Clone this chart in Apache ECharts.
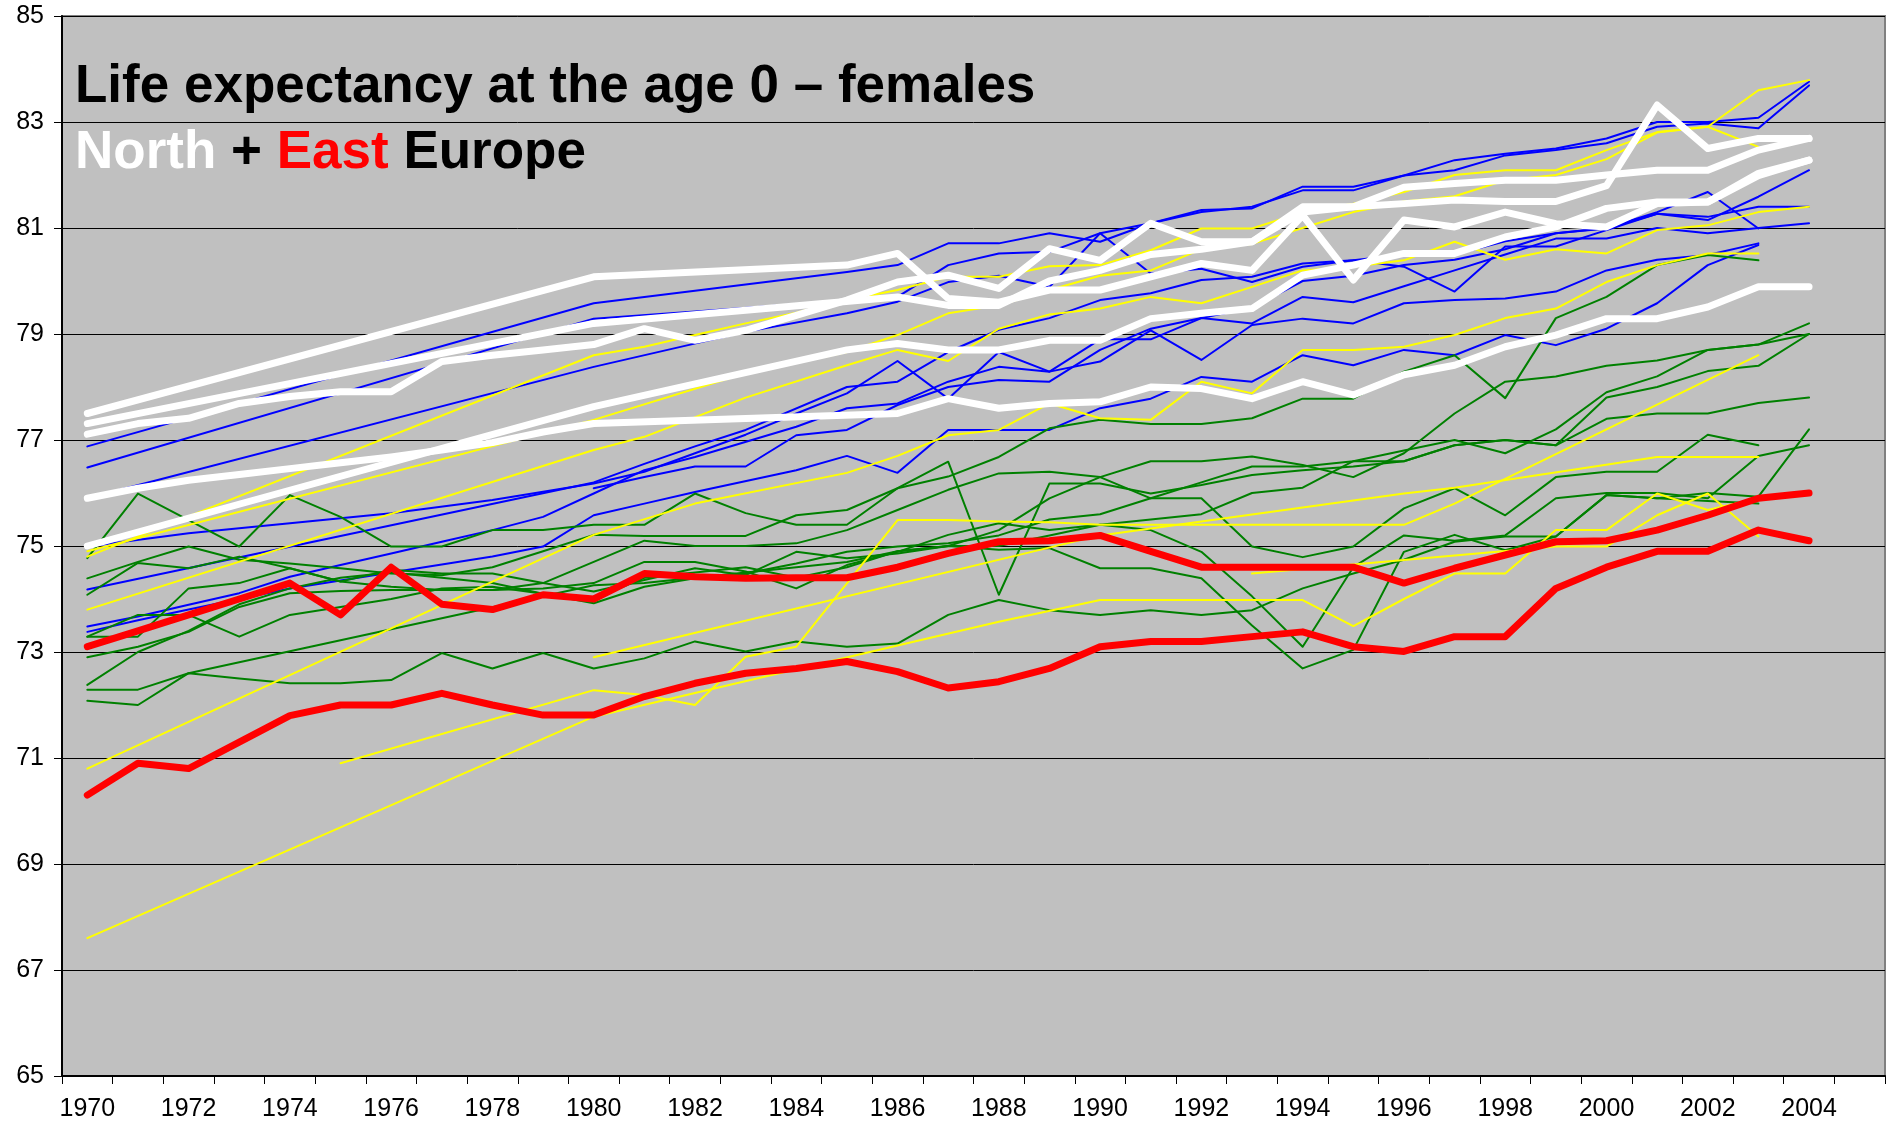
<!DOCTYPE html>
<html>
<head>
<meta charset="utf-8">
<script src="https://cdn.jsdelivr.net/npm/echarts@6/dist/echarts.min.js"></script>
<style>
  html, body { margin: 0; padding: 0; background: #ffffff; }
  #myChart { width: 1892px; height: 1131px; }
</style>
</head>
<body>
<div id="myChart"></div>
<script>
var N = null

// x categories (the last slot, 2005, is empty in the original)
var years = []
for (var y = 1970; y <= 2005; y++) years.push(String(y))

// y axis
var yMin = 65
var yMax = 85
var yStep = 2

// white thick lines - North Europe
var white1 = [77.11, 77.31, 77.41, 77.69, 77.82, 77.91, 77.91, 78.48, 78.6, 78.7, 78.8, 79.1, 78.88, 79.07, 79.35, 79.64, 79.98, 80.11, 79.86, 80.61, 80.39, 81.09, 80.74, 80.74, 81.4, 81.4, 81.46, 81.53, 81.5, 81.5, 81.8, 83.32, 82.5, 82.69, 82.69]
var white2 = [77.5, N, N, N, N, N, N, N, N, N, 80.08, N, N, N, N, 80.3, 80.52, 79.67, 79.6, 79.83, 79.83, 80.08, 80.33, 80.2, 81.24, 80.02, 81.15, 81.02, 81.3, 81.08, 81.02, 81.46, 81.49, 82.03, 82.28]
var white3 = [77.31, N, N, N, N, N, N, N, N, N, 79.2, N, N, N, N, N, 79.7, 79.54, 79.54, 80.0, 80.2, 80.5, 80.6, 80.74, 81.3, 81.4, 81.77, 81.84, 81.9, 81.9, 82.0, 82.09, 82.09, 82.47, 82.69]
var white4 = [75.9, 76.09, 76.24, 76.35, 76.46, 76.57, 76.68, 76.81, 76.95, 77.15, 77.31, N, N, N, N, N, 77.5, 77.78, 77.6, 77.69, 77.72, 78.0, 77.97, 77.78, 78.1, 77.85, 78.23, 78.41, 78.76, 78.98, 79.29, 79.29, 79.51, 79.89, 79.89]
var white5 = [75.0, N, N, N, N, N, N, N, N, N, 77.63, N, N, N, N, 78.7, 78.82, 78.7, 78.7, 78.88, 78.88, 79.29, 79.39, 79.48, 80.11, 80.3, 80.52, 80.52, 80.83, 81.02, 81.37, 81.49, 81.49, 81.99, 82.28]

// red thick lines - East Europe
var red1 = [73.1, 73.4, 73.7, 74.0, 74.3, 73.7, 74.6, 73.9, 73.8, 74.08, 74.0, 74.48, 74.42, 74.39, 74.4, 74.4, 74.6, 74.86, 75.08, 75.1, 75.2, 74.9, 74.6, 74.6, 74.6, 74.6, 74.3, 74.58, 74.83, 75.08, 75.1, 75.3, 75.58, 75.9, 76.0]
var red2 = [70.3, 70.9, 70.8, 71.3, 71.8, 72.0, 72.0, 72.22, 72.0, 71.81, 71.81, 72.16, 72.41, 72.6, 72.69, 72.82, 72.63, 72.32, 72.44, 72.69, 73.1, 73.2, 73.2, 73.29, 73.38, 73.1, 73.01, 73.29, 73.29, 74.2, 74.6, 74.9, 74.9, 75.3, 75.1]

// blue thin lines
var blue1 = [76.88, N, N, N, N, N, N, N, N, N, 79.58, N, N, N, N, 80.17, 80.3, 80.71, 80.71, 80.9, 80.74, 81.09, 81.34, 81.37, 81.78, 81.78, 81.99, 82.28, 82.4, 82.5, 82.69, 83.0, 83.0, 83.08, 83.76]
var blue2 = [76.48, N, N, N, N, N, N, N, N, N, 79.29, N, N, N, N, N, 79.7, 80.3, 80.52, 80.55, 80.9, 81.09, 81.3, 81.4, 81.71, 81.71, 81.99, 82.09, 82.37, 82.47, 82.6, 82.91, 82.97, 82.88, 83.69]
var blue3 = [75.9, N, N, N, N, N, N, N, N, N, 78.38, N, N, 79.04, N, 79.39, 79.61, 79.98, 80.1, 79.89, 80.9, 80.14, 80.23, 79.98, 80.27, 80.39, 80.27, 79.8, 80.65, 80.65, 80.96, 81.27, 81.15, 81.59, 82.09]
var blue4 = [74.99, N, 75.24, N, 75.43, N, 75.62, N, 75.87, N, 76.18, 76.4, 76.75, 77.1, 77.5, 77.88, 78.49, 77.78, 78.66, 78.29, 78.9, 78.9, 79.3, 79.2, 79.7, 79.6, 79.9, 80.2, 80.5, 80.8, 80.8, 81.0, 80.9, 81.0, 81.09]
var blue5 = [74.18, N, N, N, N, N, N, N, N, N, 76.2, 76.55, 76.88, 77.19, N, 78.0, 78.1, 78.66, 79.08, 79.3, 79.64, 79.77, 80.02, 80.08, 80.33, 80.39, 80.5, 80.5, 80.75, 80.9, 80.99, 81.27, 81.21, 81.4, 81.4]
var blue6 = [73.48, 73.67, 73.89, 74.11, 74.42, 74.64, 74.86, 75.08, 75.3, 75.55, 75.99, 76.43, 76.68, N, 77.25, 77.6, 77.69, 78.1, 78.38, 78.29, 78.48, 79.07, 78.51, 79.17, 79.29, 79.2, 79.58, 79.64, 79.67, 79.8, 80.2, 80.4, 80.49, 80.71, N]
var blue7 = [73.38, 73.6, 73.8, 74.0, 74.2, 74.35, 74.5, 74.65, 74.8, 74.99, 75.58, 75.8, 76.02, N, 76.43, 76.7, 76.38, 77.19, 77.19, 77.19, 77.6, 77.78, 78.19, 78.1, 78.6, 78.41, 78.7, 78.6, 78.98, 78.79, 79.1, 79.58, 80.3, 80.68, N]
var blue8 = [N, N, N, N, N, N, N, N, N, N, 76.09, 76.3, 76.5, 76.5, 77.09, 77.19, 77.66, 78.0, 78.13, 78.1, 78.7, 79.1, 79.3, 79.5, 80.0, 80.1, 80.3, 80.4, 80.6, 80.9, 81.0, 81.3, 81.68, 80.99, N]

// green thin lines
var green1 = [74.77, 75.99, 75.49, 74.99, 75.96, 75.55, 74.99, 74.99, 75.3, 75.3, 75.4, 75.4, 75.99, 75.62, 75.4, 75.4, 76.09, 76.59, 74.08, 76.18, 76.18, 75.99, 76.15, 76.34, 76.43, 76.5, 76.6, 76.9, 77.0, 76.9, 77.4, 77.5, 77.5, 77.7, 77.8]
var green2 = [74.39, 74.7, 74.99, 74.74, 74.67, 74.58, 74.48, 74.45, 74.6, 74.9, 75.21, 75.19, 75.19, 75.19, 75.58, 75.68, 76.09, 76.31, 76.68, 77.22, 77.38, 77.3, 77.3, 77.41, 77.78, 77.78, 78.29, 78.6, 77.79, 79.3, 79.7, 80.3, 80.49, 80.39, N]
var green3 = [74.08, 74.68, 74.58, 74.8, 74.58, 74.33, 74.55, 74.48, 74.48, 74.3, 74.14, 74.36, 74.58, 74.45, 74.89, 74.77, 74.86, 75.0, 75.3, 75.9, 76.3, 75.9, 75.9, 74.99, 74.79, 74.99, 75.71, 76.09, 75.58, 76.3, 76.4, 76.4, 77.1, 76.9, N]
var green4 = [73.29, 73.29, 74.2, 74.3, 74.58, 74.33, 74.23, 74.17, 74.17, 74.3, 74.7, 75.1, 75.0, 75.0, 75.05, 75.3, 75.68, 76.06, 76.37, 76.4, 76.3, 76.6, 76.6, 76.69, 76.53, 76.3, 76.75, 77.5, 78.1, 78.2, 78.4, 78.5, 78.7, 78.8, 79.2]
var green5 = [73.29, 73.7, 73.7, 73.29, 73.7, 73.85, 74.0, 74.2, 74.23, 74.1, 73.92, 74.23, 74.39, 74.48, 74.67, 74.89, 74.99, 75.05, 75.2, 75.5, 75.6, 75.9, 76.2, 76.5, 76.5, 76.6, 76.8, 77.0, 76.75, 77.2, 77.9, 78.2, 78.7, 78.8, 79.0]
var green6 = [72.9, 73.1, 73.38, 73.85, 74.11, 74.15, 74.17, 74.17, 74.17, 74.2, 74.3, 74.7, 74.7, 74.52, 74.2, 74.64, 74.89, 75.21, 75.43, 75.3, 75.4, 75.5, 75.6, 76.0, 76.1, 76.6, 76.6, 76.9, 77.0, 76.9, 77.8, 78.0, 78.3, 78.4, 79.0]
var green7 = [72.38, 73.0, 73.4, 73.9, 74.2, 74.4, 74.5, 74.4, 74.3, 74.1, 74.0, 74.4, 74.5, 74.6, 74.4, 74.6, 74.9, 75.0, 74.93, 74.96, 74.58, 74.58, 74.39, 73.5, 72.69, 73.04, 74.89, 75.21, 74.92, 75.18, 75.96, 75.9, 76.0, 75.93, 77.2]
var green8 = [72.29, 72.29, 72.6, N, N, N, N, N, N, N, 74.26, 74.3, 74.4, 74.5, 74.6, 74.7, 74.9, 75.0, 75.0, 75.2, 75.4, 75.3, 74.89, 74.05, 73.1, 74.6, 75.2, 75.1, 75.2, 75.9, 76.0, 76.0, 75.9, 76.7, 76.9]
var green9 = [72.08, 72.0, 72.6, 72.5, 72.41, 72.41, 72.47, 72.98, 72.69, 72.98, 72.69, 72.88, 73.2, 73.01, 73.2, 73.1, 73.16, 73.7, 73.98, 73.79, 73.7, 73.79, 73.7, 73.79, 74.2, 74.48, 74.74, 75.08, 75.18, 75.18, 75.96, 75.9, 75.85, 75.8, N]

// yellow thin lines
var yellow1 = [74.8, N, N, N, N, N, N, N, N, N, 78.6, 78.76, 78.98, 79.2, 79.4, 79.64, 79.83, 80.08, 80.08, 80.28, 80.3, 80.58, 80.99, 80.99, 81.3, 81.46, 81.68, 82.0, 82.09, 82.09, 82.47, 82.81, 82.91, 83.6, 83.79]
var yellow2 = [73.8, N, N, N, N, N, N, N, N, N, 76.81, 77.06, N, 77.8, N, 78.41, 78.7, 78.49, 79.1, 79.37, 79.48, 79.7, 79.58, 79.89, 80.2, 80.27, 80.39, 80.74, 80.4, 80.6, 80.52, 80.96, 81.05, 81.3, 81.4]
var yellow3 = [N, N, N, N, N, N, N, N, N, N, 72.9, N, N, N, N, N, N, N, N, N, 75.2, N, N, N, N, N, 75.99, 76.1, N, N, N, 76.68, 76.68, 76.68, N]
var yellow4 = [N, N, N, N, N, 70.9, N, N, N, N, 72.28, 72.19, 72.0, 72.91, 73.1, N, 75.49, 75.49, 75.46, 75.45, 75.4, N, N, N, N, N, 75.4, 75.8, N, N, N, N, N, 78.6, N]
var yellow5 = [N, N, N, N, N, N, N, N, N, N, N, N, N, N, N, N, N, N, N, N, N, N, N, 74.48, N, N, N, N, N, 74.99, 74.99, 75.58, 75.99, 75.18, N]
var yellow6 = [67.6, N, N, N, N, N, N, N, N, N, 71.78, N, N, N, N, N, N, N, 73.57, N, 73.98, N, 73.98, N, 73.98, 73.49, 74.0, 74.48, 74.48, 75.3, 75.3, 75.99, 75.68, 75.9, N]
var yellow7 = [70.8, N, N, N, N, N, N, N, N, N, 75.21, N, 75.8, N, N, 76.38, 76.7, 77.09, 77.19, 77.69, 77.41, 77.38, 78.1, 77.88, 78.7, 78.7, 78.76, 78.98, 79.3, 79.48, 79.98, 80.3, 80.52, 80.52, N]
var yellow8 = [74.9, N, N, N, N, N, N, N, N, N, 77.38, N, N, 78.26, N, 78.66, 78.98, 79.39, 79.54, 79.83, 80.1, 80.2, 80.6, 80.7, 81.0, 81.3, 81.5, 81.6, 81.9, 82.0, 82.3, 82.8, 82.91, 82.53, N]

var blues = [blue1, blue2, blue3, blue4, blue5, blue6, blue7, blue8]
var greens = [green1, green2, green3, green4, green5, green6, green7, green8, green9]
var yellows = [yellow1, yellow2, yellow3, yellow4, yellow5, yellow6, yellow7, yellow8]
var whites = [white1, white2, white3, white4, white5]
var reds = [red1, red2]

var FONT = 'Liberation Sans, Arial, sans-serif'

function makeLine(data, color, width) {
  return {
    type: 'line',
    data: data,
    connectNulls: true,
    showSymbol: false,
    symbol: 'none',
    silent: true,
    lineStyle: { color: color, width: width, cap: 'round', join: 'round' },
  }
}

function draw() {
  var myChart = echarts.init(document.getElementById('myChart'))
  var series = []
  blues.forEach(function (d) { series.push(makeLine(d, '#0000FF', 2)) })
  greens.forEach(function (d) { series.push(makeLine(d, '#008000', 2)) })
  yellows.forEach(function (d) { series.push(makeLine(d, '#FFFF00', 2)) })
  whites.forEach(function (d) { series.push(makeLine(d, '#FFFFFF', 7)) })
  reds.forEach(function (d) { series.push(makeLine(d, '#FF0000', 7)) })

  var option = {
    animation: false,
    backgroundColor: '#ffffff',
    title: [
      {
        text: 'Life expectancy at the age 0 \u2013 females',
        left: 75,
        top: 61,
        padding: 0,
        textStyle: { fontFamily: FONT, fontWeight: 'bold', fontSize: 53, color: '#000000' },
      },
      {
        text: '{w|North} {k|+} {r|East} {k|Europe}',
        left: 75,
        top: 127,
        padding: 0,
        textStyle: {
          fontFamily: FONT,
          fontWeight: 'bold',
          fontSize: 53,
          rich: {
            w: { color: '#FFFFFF', fontFamily: FONT, fontWeight: 'bold', fontSize: 53 },
            k: { color: '#000000', fontFamily: FONT, fontWeight: 'bold', fontSize: 53 },
            r: { color: '#FF0000', fontFamily: FONT, fontWeight: 'bold', fontSize: 53 },
          },
        },
      },
    ],
    grid: {
      left: 62,
      right: 7,
      top: 16,
      bottom: 55,
      show: true,
      backgroundColor: '#C0C0C0',
      borderColor: '#808080',
      borderWidth: 2,
    },
    xAxis: {
      type: 'category',
      data: years,
      boundaryGap: true,
      axisLine: { lineStyle: { color: '#000000', width: 2 } },
      axisTick: { show: true, interval: 0, length: 8, lineStyle: { color: '#000000', width: 1 } },
      axisLabel: {
        interval: 1,
        margin: 21,
        color: '#000000',
        fontFamily: FONT,
        fontSize: 25,
      },
      splitLine: { show: false },
    },
    yAxis: {
      type: 'value',
      min: yMin,
      max: yMax,
      interval: yStep,
      axisLine: { show: true, lineStyle: { color: '#000000', width: 2 } },
      axisTick: { show: true, length: 8, lineStyle: { color: '#000000', width: 1 } },
      axisLabel: {
        margin: 18,
        color: '#000000',
        fontFamily: FONT,
        fontSize: 25,
      },
      splitLine: { show: true, lineStyle: { color: '#000000', width: 1 } },
    },
    series: series,
  }
  myChart.setOption(option)
}

draw()
</script>
</body>
</html>
